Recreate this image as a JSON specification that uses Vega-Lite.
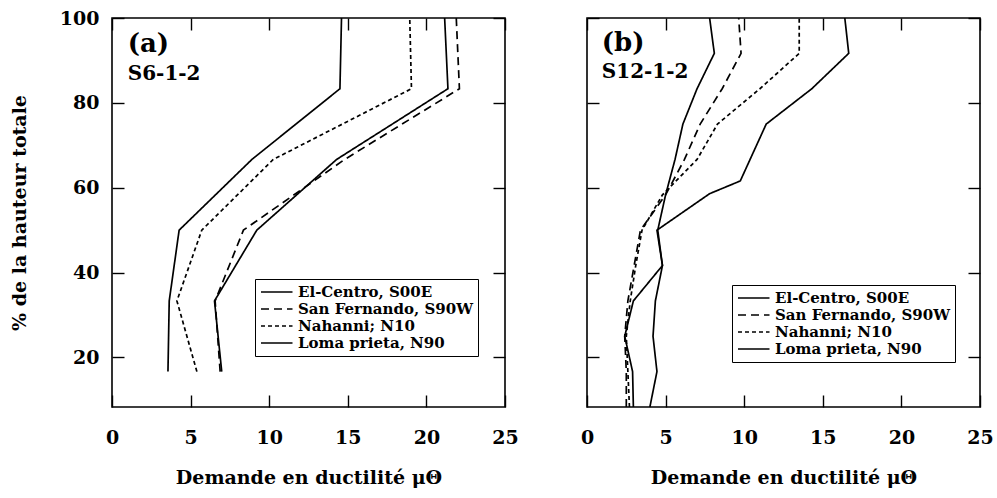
{
  "$schema": "https://vega.github.io/schema/vega-lite/v6.json",
  "padding": {"left": 9, "top": 8, "right": 5, "bottom": 5},
  "bounds": "flush",
  "spacing": 82,
  "background": "white",
  "config": {
    "view": {"stroke": "black", "strokeWidth": 1.6},
    "font": "DejaVu Serif",
    "axis": {
      "grid": false, "domain": false, "tickSize": -12, "tickColor": "black", "tickWidth": 1.4,
      "labelFont": "DejaVu Serif", "labelFontSize": 19, "labelFontWeight": "bold", "labelColor": "black",
      "titleFont": "DejaVu Serif", "titleFontSize": 19, "titleFontWeight": "bold", "titleColor": "black",
      "labelFlush": false
    },
    "axisX": {"labelPadding": 33, "titlePadding": 21},
    "axisY": {"labelPadding": 25, "titlePadding": 30},
    "legend": {
      "orient": "none", "title": null, "symbolType": "M-1,0H3.5", "symbolSize": 196,
      "symbolStrokeColor": "black", "symbolStrokeWidth": 1.5,
      "labelFont": "DejaVu Serif", "labelFontSize": 15, "labelFontWeight": "bold", "labelColor": "black",
      "labelLimit": 0,
      "labelOffset": 22, "rowPadding": 1, "padding": 5, "strokeColor": "black", "fillColor": "white"
    }
  },
  "datasets": {
    "a": [
      {"series": "El-Centro, S00E", "x": 6.98, "y": 16.67},
      {"series": "El-Centro, S00E", "x": 6.52, "y": 33.33},
      {"series": "El-Centro, S00E", "x": 9.21, "y": 50},
      {"series": "El-Centro, S00E", "x": 14.29, "y": 66.67},
      {"series": "El-Centro, S00E", "x": 21.37, "y": 83.33},
      {"series": "El-Centro, S00E", "x": 21.16, "y": 100},
      {"series": "San Fernando, S90W", "x": 6.88, "y": 16.67},
      {"series": "San Fernando, S90W", "x": 6.56, "y": 33.33},
      {"series": "San Fernando, S90W", "x": 8.36, "y": 50},
      {"series": "San Fernando, S90W", "x": 14.8, "y": 66.67},
      {"series": "San Fernando, S90W", "x": 22.1, "y": 83.33},
      {"series": "San Fernando, S90W", "x": 21.9, "y": 100},
      {"series": "Nahanni; N10", "x": 5.4, "y": 16.67},
      {"series": "Nahanni; N10", "x": 4.13, "y": 33.33},
      {"series": "Nahanni; N10", "x": 5.71, "y": 50},
      {"series": "Nahanni; N10", "x": 10.26, "y": 66.67},
      {"series": "Nahanni; N10", "x": 19.05, "y": 83.33},
      {"series": "Nahanni; N10", "x": 18.94, "y": 100},
      {"series": "Loma prieta, N90", "x": 3.56, "y": 16.67},
      {"series": "Loma prieta, N90", "x": 3.64, "y": 33.33},
      {"series": "Loma prieta, N90", "x": 4.27, "y": 50},
      {"series": "Loma prieta, N90", "x": 8.9, "y": 66.67},
      {"series": "Loma prieta, N90", "x": 14.5, "y": 83.33},
      {"series": "Loma prieta, N90", "x": 14.6, "y": 100}
    ],
    "b": [
      {"series": "El-Centro, S00E", "x": 2.95, "y": 8.33},
      {"series": "El-Centro, S00E", "x": 2.9, "y": 16.67},
      {"series": "El-Centro, S00E", "x": 2.4, "y": 25},
      {"series": "El-Centro, S00E", "x": 2.95, "y": 33.33},
      {"series": "El-Centro, S00E", "x": 4.8, "y": 41.67},
      {"series": "El-Centro, S00E", "x": 4.45, "y": 50},
      {"series": "El-Centro, S00E", "x": 7.8, "y": 58.6},
      {"series": "El-Centro, S00E", "x": 9.75, "y": 61.6},
      {"series": "El-Centro, S00E", "x": 11.4, "y": 75},
      {"series": "El-Centro, S00E", "x": 14.3, "y": 83.33},
      {"series": "El-Centro, S00E", "x": 16.65, "y": 91.67},
      {"series": "El-Centro, S00E", "x": 16.4, "y": 100},
      {"series": "San Fernando, S90W", "x": 2.5, "y": 8.33},
      {"series": "San Fernando, S90W", "x": 2.5, "y": 16.67},
      {"series": "San Fernando, S90W", "x": 2.4, "y": 25},
      {"series": "San Fernando, S90W", "x": 2.6, "y": 33.33},
      {"series": "San Fernando, S90W", "x": 3.0, "y": 41.67},
      {"series": "San Fernando, S90W", "x": 3.4, "y": 50},
      {"series": "San Fernando, S90W", "x": 5.0, "y": 58.33},
      {"series": "San Fernando, S90W", "x": 6.2, "y": 66.67},
      {"series": "San Fernando, S90W", "x": 7.2, "y": 75},
      {"series": "San Fernando, S90W", "x": 8.6, "y": 83.33},
      {"series": "San Fernando, S90W", "x": 9.8, "y": 91.67},
      {"series": "San Fernando, S90W", "x": 9.65, "y": 100},
      {"series": "Nahanni; N10", "x": 2.7, "y": 8.33},
      {"series": "Nahanni; N10", "x": 2.6, "y": 16.67},
      {"series": "Nahanni; N10", "x": 2.5, "y": 25},
      {"series": "Nahanni; N10", "x": 2.75, "y": 33.33},
      {"series": "Nahanni; N10", "x": 3.1, "y": 41.67},
      {"series": "Nahanni; N10", "x": 3.5, "y": 50},
      {"series": "Nahanni; N10", "x": 4.8, "y": 58.33},
      {"series": "Nahanni; N10", "x": 7.0, "y": 66.67},
      {"series": "Nahanni; N10", "x": 8.3, "y": 75},
      {"series": "Nahanni; N10", "x": 11.0, "y": 83.33},
      {"series": "Nahanni; N10", "x": 13.5, "y": 91.67},
      {"series": "Nahanni; N10", "x": 13.5, "y": 100},
      {"series": "Loma prieta, N90", "x": 4.0, "y": 8.33},
      {"series": "Loma prieta, N90", "x": 4.45, "y": 16.67},
      {"series": "Loma prieta, N90", "x": 4.2, "y": 25},
      {"series": "Loma prieta, N90", "x": 4.35, "y": 33.33},
      {"series": "Loma prieta, N90", "x": 4.8, "y": 41.67},
      {"series": "Loma prieta, N90", "x": 4.5, "y": 50},
      {"series": "Loma prieta, N90", "x": 5.0, "y": 58.33},
      {"series": "Loma prieta, N90", "x": 5.6, "y": 66.67},
      {"series": "Loma prieta, N90", "x": 6.1, "y": 75},
      {"series": "Loma prieta, N90", "x": 7.0, "y": 83.33},
      {"series": "Loma prieta, N90", "x": 8.1, "y": 91.67},
      {"series": "Loma prieta, N90", "x": 7.8, "y": 100}
    ],
    "notes": [
      {"panel": "a", "kind": "letter", "label": "(a)", "x": 1.0, "y": 92},
      {"panel": "a", "kind": "name", "label": "S6-1-2", "x": 1.0, "y": 85.5},
      {"panel": "b", "kind": "letter", "label": "(b)", "x": 0.94, "y": 92.2},
      {"panel": "b", "kind": "name", "label": "S12-1-2", "x": 0.94, "y": 85.9}
    ]
  },
  "hconcat": [
    {
      "width": 393, "height": 389,
      "layer": [
        {
          "data": {"name": "a"},
          "mark": {"type": "line", "color": "black", "strokeWidth": 1.7},
          "encoding": {
            "x": {"field": "x", "type": "quantitative", "scale": {"domain": [0, 25], "nice": false, "zero": false},
                  "axis": {"orient": "bottom", "values": [0, 5, 10, 15, 20, 25], "title": "Demande en ductilité μΘ"}},
            "y": {"field": "y", "type": "quantitative", "scale": {"domain": [8.33, 100], "nice": false, "zero": false},
                  "axis": {"orient": "left", "values": [20, 40, 60, 80, 100], "title": "% de la hauteur totale"}},
            "strokeDash": {"field": "series", "type": "nominal",
              "scale": {"domain": ["El-Centro, S00E", "San Fernando, S90W", "Nahanni; N10", "Loma prieta, N90"],
                        "range": [[1, 0], [8, 5], [4, 3], [1, 0]]},
              "legend": {"legendX": 143, "legendY": 261}},
            "order": {"field": "y", "type": "quantitative"}
          }
        },
        {
          "data": {"name": "notes"},
          "transform": [{"filter": "datum.panel === 'a' && datum.kind === 'letter'"}],
          "mark": {"type": "text", "align": "left", "baseline": "alphabetic", "fontSize": 26, "fontWeight": "bold", "font": "DejaVu Serif", "color": "black"},
          "encoding": {
            "x": {"field": "x", "type": "quantitative", "axis": {"orient": "top", "labels": false, "title": null, "values": [0, 5, 10, 15, 20, 25]}},
            "y": {"field": "y", "type": "quantitative", "axis": {"orient": "right", "labels": false, "title": null, "values": [20, 40, 60, 80, 100]}},
            "text": {"field": "label"}
          }
        },
        {
          "data": {"name": "notes"},
          "transform": [{"filter": "datum.panel === 'a' && datum.kind === 'name'"}],
          "mark": {"type": "text", "align": "left", "baseline": "alphabetic", "fontSize": 20, "fontWeight": "bold", "font": "DejaVu Serif", "color": "black"},
          "encoding": {
            "x": {"field": "x", "type": "quantitative", "axis": null},
            "y": {"field": "y", "type": "quantitative", "axis": null},
            "text": {"field": "label"}
          }
        }
      ]
    },
    {
      "width": 393, "height": 389,
      "layer": [
        {
          "data": {"name": "b"},
          "mark": {"type": "line", "color": "black", "strokeWidth": 1.7},
          "encoding": {
            "x": {"field": "x", "type": "quantitative", "scale": {"domain": [0, 25], "nice": false, "zero": false},
                  "axis": {"orient": "bottom", "values": [0, 5, 10, 15, 20, 25], "title": "Demande en ductilité μΘ"}},
            "y": {"field": "y", "type": "quantitative", "scale": {"domain": [8.33, 100], "nice": false, "zero": false},
                  "axis": {"orient": "left", "values": [20, 40, 60, 80, 100], "labels": false, "title": null}},
            "strokeDash": {"field": "series", "type": "nominal",
              "scale": {"domain": ["El-Centro, S00E", "San Fernando, S90W", "Nahanni; N10", "Loma prieta, N90"],
                        "range": [[1, 0], [8, 5], [4, 3], [1, 0]]},
              "legend": {"legendX": 145, "legendY": 267}},
            "order": {"field": "y", "type": "quantitative"}
          }
        },
        {
          "data": {"name": "notes"},
          "transform": [{"filter": "datum.panel === 'b' && datum.kind === 'letter'"}],
          "mark": {"type": "text", "align": "left", "baseline": "alphabetic", "fontSize": 26, "fontWeight": "bold", "font": "DejaVu Serif", "color": "black"},
          "encoding": {
            "x": {"field": "x", "type": "quantitative", "axis": {"orient": "top", "labels": false, "title": null, "values": [0, 5, 10, 15, 20, 25]}},
            "y": {"field": "y", "type": "quantitative", "axis": {"orient": "right", "labels": false, "title": null, "values": [20, 40, 60, 80, 100]}},
            "text": {"field": "label"}
          }
        },
        {
          "data": {"name": "notes"},
          "transform": [{"filter": "datum.panel === 'b' && datum.kind === 'name'"}],
          "mark": {"type": "text", "align": "left", "baseline": "alphabetic", "fontSize": 20, "fontWeight": "bold", "font": "DejaVu Serif", "color": "black"},
          "encoding": {
            "x": {"field": "x", "type": "quantitative", "axis": null},
            "y": {"field": "y", "type": "quantitative", "axis": null},
            "text": {"field": "label"}
          }
        }
      ]
    }
  ],
  "resolve": {"legend": {"strokeDash": "independent"}}
}
